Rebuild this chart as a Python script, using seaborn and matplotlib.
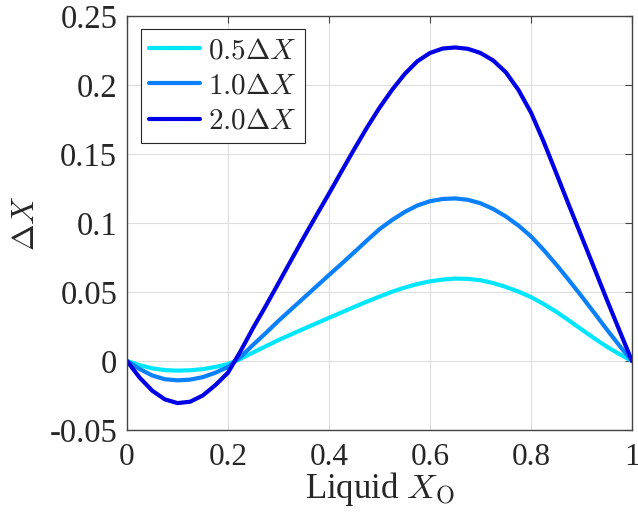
import numpy as np
import pandas as pd
import matplotlib
matplotlib.use("Agg")
import matplotlib.pyplot as plt
import seaborn as sns

# Liquid composition samples
x_liquid = [0.000, 0.025, 0.050, 0.075, 0.100, 0.125, 0.150, 0.175, 0.200, 0.225,
            0.250, 0.275, 0.300, 0.325, 0.350, 0.375, 0.400, 0.425, 0.450, 0.475,
            0.500, 0.525, 0.550, 0.575, 0.600, 0.625, 0.650, 0.675, 0.700, 0.725,
            0.750, 0.775, 0.800, 0.825, 0.850, 0.875, 0.900, 0.925, 0.950, 0.975, 1.000]

# Composition shift for each perturbation size
dx_05 = [0.0, -0.0030, -0.0053, -0.0066, -0.0070, -0.0067, -0.0059, -0.0043, -0.0022, 0.0016,
         0.0062, 0.0107, 0.0152, 0.0193, 0.0233, 0.0273, 0.0313, 0.0352, 0.0392, 0.0430,
         0.0467, 0.0502, 0.0532, 0.0558, 0.0577, 0.0590, 0.0597, 0.0595, 0.0585, 0.0565,
         0.0537, 0.0503, 0.0463, 0.0413, 0.0357, 0.0294, 0.0229, 0.0165, 0.0104, 0.0050, 0.0]
dx_10 = [0.0, -0.0058, -0.0105, -0.0132, -0.0140, -0.0135, -0.0117, -0.0085, -0.0043, 0.0030,
         0.0118, 0.0203, 0.0291, 0.0374, 0.0457, 0.0540, 0.0623, 0.0705, 0.0788, 0.0873,
         0.0955, 0.1022, 0.1080, 0.1127, 0.1158, 0.1174, 0.1178, 0.1168, 0.1143, 0.1102,
         0.1048, 0.0982, 0.0903, 0.0805, 0.0699, 0.0586, 0.0470, 0.0350, 0.0229, 0.0112, 0.0]
dx_20 = [0.0, -0.0120, -0.0215, -0.0278, -0.0305, -0.0295, -0.0250, -0.0175, -0.0085, 0.0072,
         0.0241, 0.0400, 0.0564, 0.0730, 0.0895, 0.1055, 0.1213, 0.1375, 0.1535, 0.1690,
         0.1835, 0.1965, 0.2080, 0.2172, 0.2232, 0.2264, 0.2272, 0.2262, 0.2232, 0.2178,
         0.2093, 0.1965, 0.1800, 0.1590, 0.1361, 0.1130, 0.0903, 0.0675, 0.0446, 0.0222, 0.0]

series_labels = [r"$0.5\Delta X$", r"$1.0\Delta X$", r"$2.0\Delta X$"]
series_colors = ["#00E6FF", "#0A80FF", "#0000E6"]

x_ticks = [0, 0.2, 0.4, 0.6, 0.8, 1.0]
x_ticklabels = ["0", "0.2", "0.4", "0.6", "0.8", "1"]
y_ticks = [-0.05, 0, 0.05, 0.1, 0.15, 0.2, 0.25]
y_ticklabels = ["-0.05", "0", "0.05", "0.1", "0.15", "0.2", "0.25"]

df = pd.concat([
    pd.DataFrame({"x": x_liquid, "dx": vals, "series": lab})
    for vals, lab in zip([dx_05, dx_10, dx_20], series_labels)
], ignore_index=True)

sns.set_theme(style="white")
plt.rcParams["font.family"] = ["Liberation Serif", "DejaVu Serif"]
plt.rcParams["mathtext.fontset"] = "cm"
plt.rcParams["axes.unicode_minus"] = False

fig = plt.figure(figsize=(6.38, 5.14), dpi=100)
ax = fig.add_axes([0.199, 0.1634, 0.7916, 0.8055])

sns.lineplot(data=df, x="x", y="dx", hue="series", hue_order=series_labels,
             palette=series_colors, linewidth=3.0, ax=ax, legend=True,
             solid_capstyle="round", solid_joinstyle="round")

ax.set_xlim(0, 1)
ax.set_ylim(-0.05, 0.25)
ax.set_xticks(x_ticks)
ax.set_xticklabels(x_ticklabels)
ax.set_yticks(y_ticks)
ax.set_yticklabels(y_ticklabels)

ax.grid(True, color="#dddddd", linewidth=0.8)
ax.set_axisbelow(True)
for sp in ax.spines.values():
    sp.set_visible(True)
    sp.set_color("#444444")
    sp.set_linewidth(1.0)
ax.tick_params(axis="both", which="both", direction="in", length=5, width=0.8,
               color="#444444", labelcolor="#262626", top=True, right=True)
ax.tick_params(axis="y", pad=7, labelsize=23.5)
ax.tick_params(axis="x", pad=9, labelsize=22.5)

ax.set_xlabel(r"Liquid $X_\mathrm{O}$", fontsize=25, color="#262626", labelpad=-1)
ax.set_ylabel(r"$\Delta X$", fontsize=23, color="#262626", labelpad=6)

leg = ax.legend(loc="upper left", fontsize=21, frameon=True, fancybox=False,
                edgecolor="#262626", framealpha=1, handlelength=1.75,
                handletextpad=0.25, borderpad=0.3, labelspacing=0.3,
                borderaxespad=0, bbox_to_anchor=(0.027, 0.968))
leg.get_frame().set_linewidth(0.8)

fig.savefig("out.png", dpi=100)
